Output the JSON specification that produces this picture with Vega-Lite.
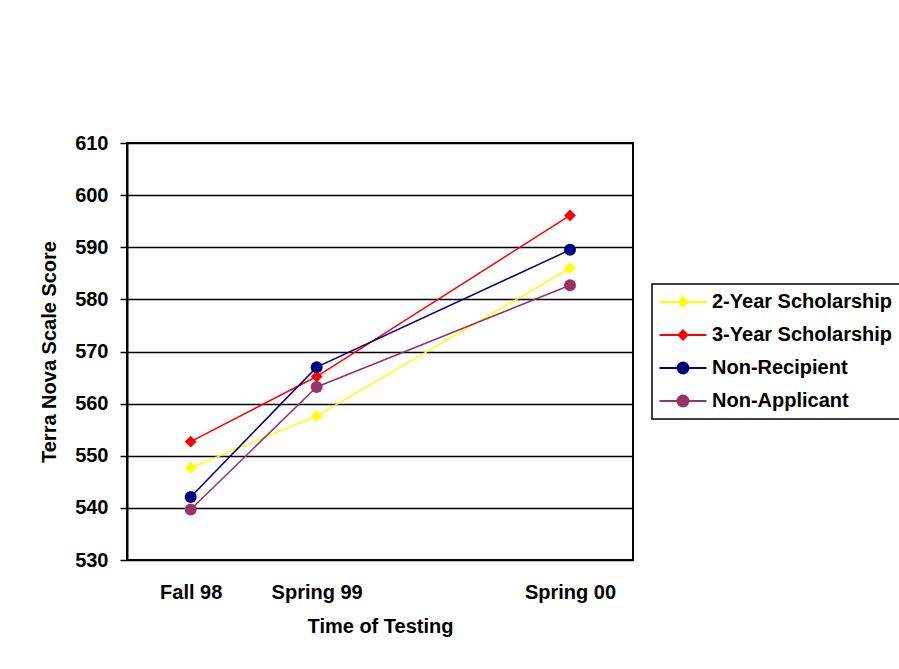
{
  "$schema": "https://vega.github.io/schema/vega-lite/v6.json",
  "autosize": "none",
  "width": 506,
  "height": 417,
  "padding": {"left": 127, "top": 143, "right": 266, "bottom": 109},
  "background": "white",
  "config": {
    "font": "Liberation Sans",
    "view": {"stroke": "black", "strokeWidth": 2}
  },
  "data": {
    "values": [
      {"group": "2-Year Scholarship", "time": "Fall 98", "date": "1998-10-15", "score": 547.7},
      {"group": "2-Year Scholarship", "time": "Spring 99", "date": "1999-04-15", "score": 557.6},
      {"group": "2-Year Scholarship", "time": "Spring 00", "date": "2000-04-15", "score": 586.0},
      {"group": "3-Year Scholarship", "time": "Fall 98", "date": "1998-10-15", "score": 552.7},
      {"group": "3-Year Scholarship", "time": "Spring 99", "date": "1999-04-15", "score": 565.2},
      {"group": "3-Year Scholarship", "time": "Spring 00", "date": "2000-04-15", "score": 596.1},
      {"group": "Non-Recipient", "time": "Fall 98", "date": "1998-10-15", "score": 542.1},
      {"group": "Non-Recipient", "time": "Spring 99", "date": "1999-04-15", "score": 567.0},
      {"group": "Non-Recipient", "time": "Spring 00", "date": "2000-04-15", "score": 589.5},
      {"group": "Non-Applicant", "time": "Fall 98", "date": "1998-10-15", "score": 539.7},
      {"group": "Non-Applicant", "time": "Spring 99", "date": "1999-04-15", "score": 563.2},
      {"group": "Non-Applicant", "time": "Spring 00", "date": "2000-04-15", "score": 582.7}
    ]
  },
  "encoding": {
    "x": {
      "field": "date",
      "type": "temporal",
      "scale": {"domain": [{"year": 1998, "month": 7, "date": 15}, {"year": 2000, "month": 7, "date": 15}]},
      "axis": {
        "title": "Time of Testing",
        "values": [{"year": 1998, "month": 10, "date": 15}, {"year": 1999, "month": 4, "date": 15}, {"year": 2000, "month": 4, "date": 15}],
        "labelExpr": "(month(datum.value) > 6 ? 'Fall ' : 'Spring ') + timeFormat(datum.value, '%y')",
        "ticks": false,
        "grid": false,
        "domain": false,
        "labelPadding": 22,
        "labelFontSize": 20,
        "labelFontWeight": "bold",
        "labelColor": "black",
        "labelFlush": false,
        "labelOverlap": false,
        "titleFontSize": 20,
        "titleFontWeight": "bold",
        "titleColor": "black",
        "titlePadding": 14
      }
    },
    "y": {
      "field": "score",
      "type": "quantitative",
      "scale": {"domain": [530, 610], "nice": false, "zero": false},
      "axis": {
        "title": "Terra Nova Scale Score",
        "values": [530, 540, 550, 560, 570, 580, 590, 600, 610],
        "grid": true,
        "gridColor": "black",
        "gridWidth": 1.5,
        "gridOpacity": 1,
        "domainColor": "black",
        "domainWidth": 2,
        "tickColor": "black",
        "tickSize": 7,
        "tickWidth": 1.5,
        "labelPadding": 12,
        "labelFontSize": 20,
        "labelFontWeight": "bold",
        "labelColor": "black",
        "titleFontSize": 20,
        "titleFontWeight": "bold",
        "titleColor": "black",
        "titlePadding": 15
      }
    },
    "color": {
      "field": "group",
      "type": "nominal",
      "scale": {
        "domain": ["2-Year Scholarship", "3-Year Scholarship", "Non-Recipient", "Non-Applicant"],
        "range": ["#FFFF00", "#FF0000", "#000080", "#993366"]
      },
      "legend": {
        "title": null,
        "orient": "none",
        "legendX": 525,
        "legendY": 141,
        "strokeColor": "black",
        "padding": 8,
        "symbolSize": 100,
        "symbolStrokeWidth": 2,
        "symbolOffset": 13,
        "labelOffset": 19,
        "labelFontSize": 20,
        "labelFontWeight": "bold",
        "labelColor": "black",
        "labelLimit": 300,
        "rowPadding": 13,
        "encode": {
          "legend": {"update": {"strokeWidth": {"value": 1.5}}},
          "symbols": {
            "update": {
              "shape": {"signal": "indexof(['2-Year Scholarship','3-Year Scholarship'], datum.value) >= 0 ? 'M-4.7,0H4.7M0,-0.9L0.9,0L0,0.9L-0.9,0Z' : 'M-4.7,0H4.7M1.1,0A1.1,1.1,0,1,1,-1.1,0A1.1,1.1,0,1,1,1.1,0Z'"},
              "stroke": {"scale": "color", "field": "value"},
              "fill": {"scale": "color", "field": "value"},
              "strokeWidth": {"value": 2},
              "opacity": {"value": 1}
            }
          }
        }
      }
    }
  },
  "layer": [
    {"mark": {"type": "line", "strokeWidth": 1.5}},
    {
      "transform": [{"filter": "indexof(['2-Year Scholarship','3-Year Scholarship'], datum.group) >= 0"}],
      "mark": {"type": "point", "shape": "diamond", "filled": true, "opacity": 1, "size": 140, "strokeWidth": 0}
    },
    {
      "transform": [{"filter": "indexof(['2-Year Scholarship','3-Year Scholarship'], datum.group) < 0"}],
      "mark": {"type": "point", "shape": "circle", "filled": true, "opacity": 1, "size": 144, "strokeWidth": 0}
    }
  ]
}
